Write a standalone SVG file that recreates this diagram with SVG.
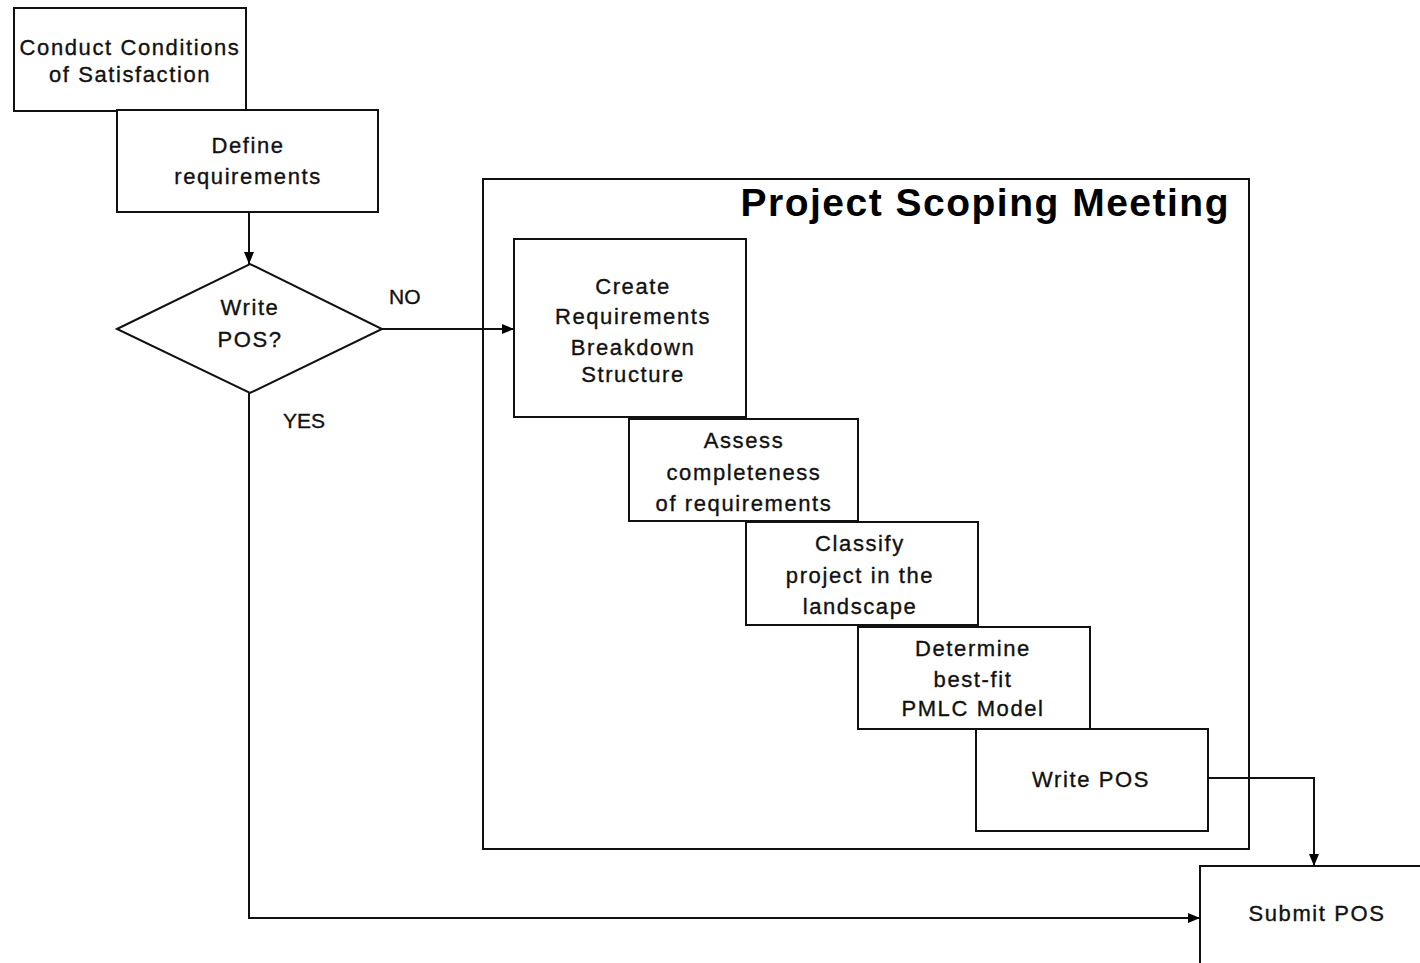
<svg xmlns="http://www.w3.org/2000/svg" width="1420" height="963" viewBox="0 0 1420 963">
<style>
.box{fill:#fff;stroke:#111;stroke-width:2}
.frame{fill:none;stroke:#111;stroke-width:2}
.t{font-family:"Liberation Sans",Arial,sans-serif;font-size:22px;letter-spacing:1.6px;fill:#111;stroke:#111;stroke-width:0.35;text-anchor:middle}
.lbl{font-family:"Liberation Sans",Arial,sans-serif;font-size:21px;fill:#111;stroke:#111;stroke-width:0.35}
.title{font-family:"Liberation Sans",Arial,sans-serif;font-size:39px;font-weight:bold;fill:#000;letter-spacing:1.5px}
.c{fill:none;stroke:#111;stroke-width:2}
</style>
<defs>
<marker id="ah" markerUnits="userSpaceOnUse" markerWidth="14" markerHeight="12" refX="12" refY="6" orient="auto">
<path d="M0,1 L12,6 L0,11 Z" fill="#000"/>
</marker>
</defs>
<rect x="0" y="0" width="1420" height="963" fill="#fff"/>
<g id="scoping-meeting">
<rect class="frame" x="483" y="179" width="766" height="670"/>
<text class="title" x="1230" y="216" text-anchor="end">Project Scoping Meeting</text>
</g>
<g id="conduct-cos">
<rect class="box" x="14" y="8" width="232" height="103"/>
<text class="t" x="130" y="55">Conduct Conditions</text>
<text class="t" x="130" y="82">of Satisfaction</text>
</g>
<g id="define-req">
<rect class="box" x="117" y="110" width="261" height="102"/>
<text class="t" x="248" y="153">Define</text>
<text class="t" x="248" y="184">requirements</text>
</g>
<g id="write-pos-decision">
<polygon class="box" points="117,329 250,264 382,329 250,393"/>
<text class="t" x="250" y="315">Write</text>
<text class="t" x="250" y="347">POS?</text>
</g>
<g id="create-rbs">
<rect class="box" x="514" y="239" width="232" height="178"/>
<text class="t" x="633" y="294">Create</text>
<text class="t" x="633" y="324">Requirements</text>
<text class="t" x="633" y="355">Breakdown</text>
<text class="t" x="633" y="382">Structure</text>
</g>
<g id="assess">
<rect class="box" x="629" y="419" width="229" height="102"/>
<text class="t" x="744" y="448">Assess</text>
<text class="t" x="744" y="480">completeness</text>
<text class="t" x="744" y="511">of requirements</text>
</g>
<g id="classify">
<rect class="box" x="746" y="522" width="232" height="103"/>
<text class="t" x="860" y="551">Classify</text>
<text class="t" x="860" y="583">project in the</text>
<text class="t" x="860" y="614">landscape</text>
</g>
<g id="determine">
<rect class="box" x="858" y="627" width="232" height="102"/>
<text class="t" x="973" y="656">Determine</text>
<text class="t" x="973" y="687">best-fit</text>
<text class="t" x="973" y="716">PMLC Model</text>
</g>
<g id="write-pos">
<rect class="box" x="976" y="729" width="232" height="102"/>
<text class="t" x="1091" y="787">Write POS</text>
</g>
<g id="submit-pos">
<rect class="box" x="1200" y="866" width="230" height="110"/>
<text class="t" x="1317" y="921">Submit POS</text>
</g>
<g id="connectors">
<line class="c" x1="249" y1="212" x2="249" y2="264" marker-end="url(#ah)"/>
<line class="c" x1="382" y1="329" x2="514" y2="329" marker-end="url(#ah)"/>
<polyline class="c" points="249,393 249,918 1200,918" marker-end="url(#ah)"/>
<polyline class="c" points="1208,778 1314,778 1314,866" marker-end="url(#ah)"/>
<text class="lbl" x="389" y="304">NO</text>
<text class="lbl" x="283" y="428">YES</text>
</g>
</svg>
